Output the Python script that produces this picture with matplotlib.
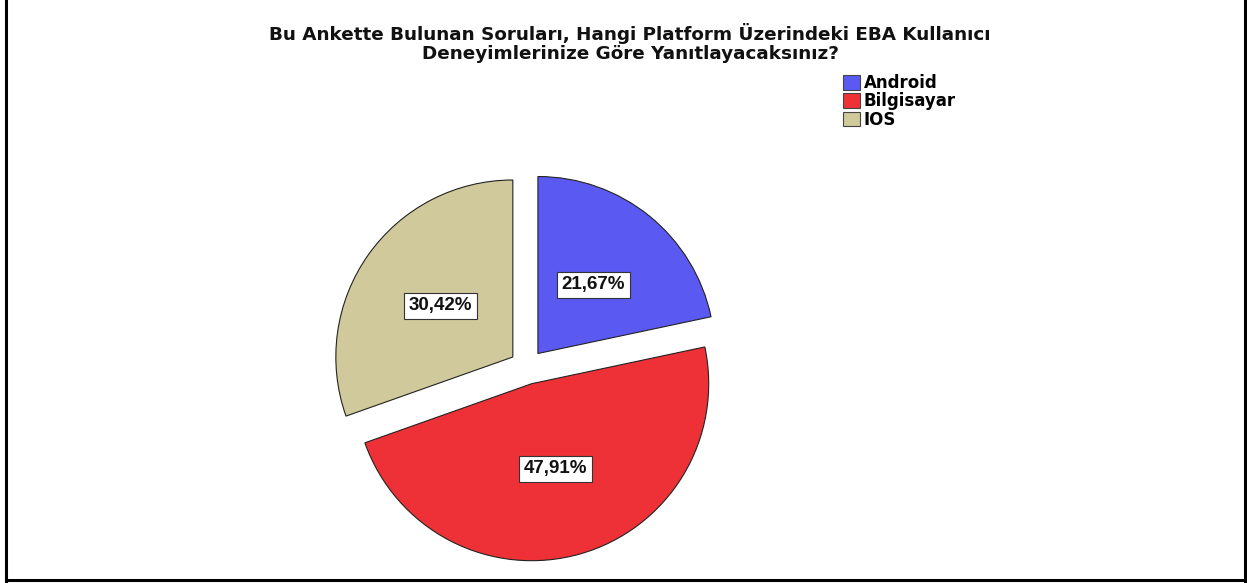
import matplotlib
matplotlib.use("Agg")
import matplotlib.pyplot as plt
from matplotlib.lines import Line2D
import matplotlib.patches as mpatches

plt.rcParams["font.family"] = ["DejaVu Sans"]

TITLE = "Bu Ankette Bulunan Soruları, Hangi Platform Üzerindeki EBA Kullanıcı\nDeneyimlerinize Göre Yanıtlayacaksınız?"
platforms = ["Android", "Bilgisayar", "IOS"]
shares = [21.67, 47.91, 30.42]
colours = ["#5a5af2", "#ee3136", "#cfc99b"]

W, H = 1247, 583
fig = plt.figure(figsize=(W / 100, H / 100), dpi=100, facecolor="white")

# pie axes, centred near (527, 367) px, radius ~177 px
cx, cy, r_px, lim = 527, 367, 177, 1.2
size = 2 * lim * r_px
ax = fig.add_axes([(cx - size / 2) / W, (H - cy - size / 2) / H, size / W, size / H])
wedges, texts, autotexts = ax.pie(
    shares, colors=colours, startangle=90, counterclock=False,
    explode=[0.098] * 3, radius=1.0, pctdistance=0.5,
    autopct=lambda p: f"{p:.2f}%".replace(".", ","),
    wedgeprops=dict(edgecolor="#222222", linewidth=0.8),
    textprops=dict(fontsize=13.5, fontweight="bold", color="#111111",
                   family="Liberation Sans"))
for t in autotexts:
    t.set_bbox(dict(facecolor="white", edgecolor="#333333", linewidth=0.8, pad=3.4))
ax.set_xlim(-lim, lim)
ax.set_ylim(-lim, lim)
ax.set_aspect("equal")
ax.axis("off")

fig.text(630 / W, 1 - 23 / H, TITLE, ha="center", va="top", fontsize=13.2,
         fontweight="bold", color="#111111", linespacing=1.1)

handles = [mpatches.Patch(facecolor=c, edgecolor="#444444", linewidth=0.8) for c in colours]
leg = fig.legend(handles, platforms, loc="upper left", bbox_to_anchor=(843 / W, 1 - 74 / H),
                 frameon=False, fontsize=12, handlelength=1.0, handleheight=1.0,
                 handletextpad=0.25, labelspacing=0.02, borderpad=0, borderaxespad=0)
for t in leg.get_texts():
    t.set_fontweight("bold")

# frame: left, bottom, right
lw = 2.2
fig.add_artist(Line2D([5.5 / W, 5.5 / W], [0, 1], transform=fig.transFigure, color="black", lw=lw))
fig.add_artist(Line2D([1244.5 / W, 1244.5 / W], [0, 1], transform=fig.transFigure, color="black", lw=lw))
fig.add_artist(Line2D([5.5 / W, 1244.5 / W], [1 - 579.5 / H, 1 - 579.5 / H], transform=fig.transFigure,
                      color="black", lw=lw))

fig.savefig("out.png", dpi=100, facecolor="white")
